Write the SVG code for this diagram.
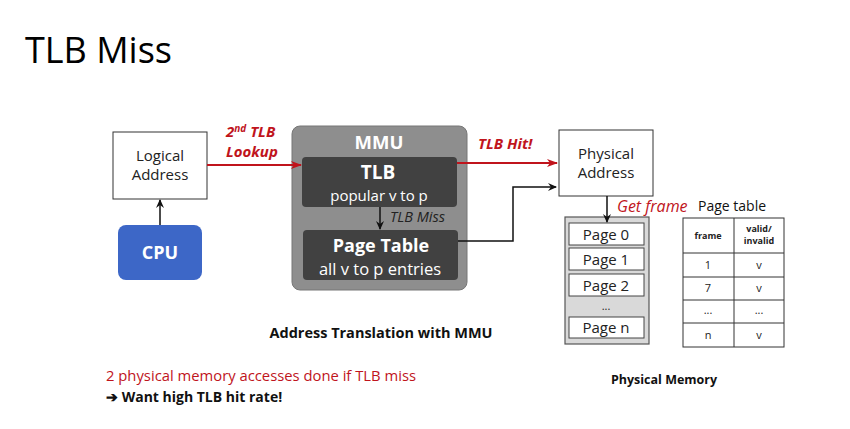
<svg xmlns="http://www.w3.org/2000/svg" width="850" height="429" viewBox="0 0 850 429">
<defs>
<marker id="ab" markerWidth="10" markerHeight="10" refX="8" refY="5" orient="auto" markerUnits="userSpaceOnUse"><path d="M0,1 L9,5 L0,9 L3,5 Z" fill="#111"/></marker>
<marker id="ar" markerWidth="12" markerHeight="10" refX="10" refY="5" orient="auto" markerUnits="userSpaceOnUse"><path d="M0,1 L11,5 L0,9 L3,5 Z" fill="#c0141c"/></marker>
</defs>
<style>
text{font-family:"Open Sans","Noto Sans","Liberation Sans",sans-serif}
.box{fill:#fff;stroke:#333;stroke-width:1}
.lbl{font-size:15px;fill:#222;text-anchor:middle}
.red{fill:#c0141c;font-weight:bold;font-style:italic;font-size:15px}
.wb{fill:#fff;font-weight:bold;text-anchor:middle}
.w{fill:#fff;text-anchor:middle}
.pg{fill:#fff;stroke:#444;stroke-width:1}
.pt{font-size:15px;fill:#222;text-anchor:middle}
.tc{font-size:11px;fill:#222;text-anchor:middle}
.th{font-size:9px;fill:#222;text-anchor:middle;font-weight:bold}
.bl{stroke:#111;stroke-width:1.5;fill:none}
.rl{stroke:#c0141c;stroke-width:2;fill:none}
</style>
<rect width="850" height="429" fill="#fff"/>
<text x="25" y="63" font-size="36" fill="#000">TLB Miss</text>

<g id="logical">
<rect class="box" x="113" y="132" width="94" height="67"/>
<text class="lbl" x="160" y="161">Logical</text>
<text class="lbl" x="160" y="180">Address</text>
</g>

<g id="cpu">
<rect x="118" y="225" width="84" height="55" rx="8" fill="#3d67c7"/>
<text class="wb" x="160" y="259" font-size="18">CPU</text>
</g>

<g id="mmu">
<rect x="292" y="126" width="175" height="164" rx="8" fill="#8e8e8e" stroke="#777" stroke-width="1"/>
<text class="wb" x="379" y="149" font-size="18.5">MMU</text>
</g>

<g id="tlb">
<rect x="302" y="157" width="155" height="50" rx="4" fill="#414141"/>
<text class="wb" x="378" y="179" font-size="19">TLB</text>
<text class="w" x="379" y="201" font-size="15">popular v to p</text>
</g>

<g id="pagetable">
<rect x="303" y="230" width="155" height="50" rx="4" fill="#414141"/>
<text class="wb" x="381" y="252" font-size="18">Page Table</text>
<text class="w" x="380" y="275" font-size="16.5">all v to p entries</text>
</g>

<g id="physical">
<rect class="box" x="559" y="130" width="94" height="66"/>
<text class="lbl" x="606" y="159">Physical</text>
<text class="lbl" x="606" y="178">Address</text>
</g>

<g id="memory">
<rect x="565" y="217" width="84" height="127" fill="#d9d9d9" stroke="#555" stroke-width="1.2"/>
<rect class="pg" x="569" y="223" width="75" height="22"/>
<text class="pt" x="606" y="240">Page 0</text>
<rect class="pg" x="569" y="248" width="75" height="22"/>
<text class="pt" x="606" y="265">Page 1</text>
<rect class="pg" x="569" y="274" width="75" height="22"/>
<text class="pt" x="606" y="291">Page 2</text>
<text class="tc" x="606" y="310" fill="#555">...</text>
<rect class="pg" x="569" y="317" width="75" height="21"/>
<text class="pt" x="606" y="333">Page n</text>
</g>

<g id="table">
<rect x="683" y="218" width="101" height="129" fill="#fff" stroke="#333" stroke-width="1"/>
<path d="M734,218 V347 M683,253 H784 M683,277 H784 M683,300 H784 M683,323 H784" stroke="#333" stroke-width="1" fill="none"/>
<text class="th" x="708" y="239">frame</text>
<text class="th" x="759" y="232">valid/</text>
<text class="th" x="759" y="244">invalid</text>
<text class="tc" x="708" y="269">1</text>
<text class="tc" x="759" y="269">v</text>
<text class="tc" x="708" y="292">7</text>
<text class="tc" x="759" y="292">v</text>
<text class="tc" x="708" y="314">...</text>
<text class="tc" x="759" y="314">...</text>
<text class="tc" x="708" y="339">n</text>
<text class="tc" x="759" y="339">v</text>
</g>

<g id="connectors">
<line class="bl" x1="160" y1="225" x2="160" y2="200" marker-end="url(#ab)"/>
<line class="rl" x1="207" y1="165" x2="301" y2="165" marker-end="url(#ar)"/>
<line class="rl" x1="457" y1="163" x2="557" y2="163" marker-end="url(#ar)"/>
<line class="bl" x1="380" y1="207" x2="380" y2="229" marker-end="url(#ab)"/>
<polyline class="bl" points="458,241 513,241 513,187 556,187" marker-end="url(#ab)"/>
<line class="bl" x1="607" y1="196" x2="607" y2="222" marker-end="url(#ab)"/>
</g>

<text class="red" x="226" y="137">2<tspan font-size="10" dy="-5">nd</tspan><tspan dy="5"> TLB</tspan></text>
<text class="red" x="226" y="157">Lookup</text>
<text class="red" x="478" y="149" font-size="16.5">TLB Hit!</text>
<text x="390" y="222" font-size="14.5" font-style="italic" fill="#222">TLB Miss</text>
<text x="617" y="212" font-size="16" font-style="italic" fill="#c0141c">Get frame</text>
<text x="698" y="211" font-size="14" fill="#111">Page table</text>

<text x="381" y="338" font-size="14.5" font-weight="bold" fill="#111" text-anchor="middle">Address Translation with MMU</text>
<text x="664" y="384" font-size="12.5" font-weight="bold" fill="#111" text-anchor="middle">Physical Memory</text>
<text x="106" y="381" font-size="14.8" fill="#c0141c">2 physical memory accesses done if TLB miss</text>
<text x="106" y="402" font-size="14" font-weight="bold" fill="#111">➔ Want high TLB hit rate!</text>
</svg>
